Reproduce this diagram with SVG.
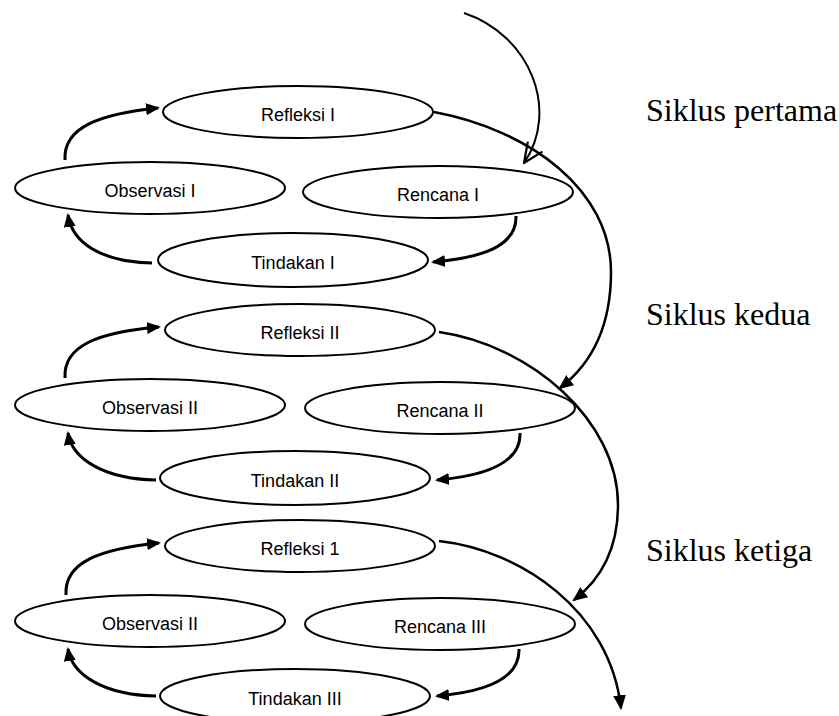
<svg xmlns="http://www.w3.org/2000/svg" width="839" height="716" viewBox="0 0 839 716">
<style>
.node ellipse{fill:#fff;stroke:#000;stroke-width:2}
.lbl{font-family:"Liberation Sans",Arial,sans-serif;font-size:18px;fill:#000;text-anchor:middle}
.cyc{font-family:"Liberation Serif","Times New Roman",serif;font-size:32px;fill:#000}
.c{fill:none;stroke:#000;stroke-width:3}
.big{fill:none;stroke:#000;stroke-width:2.5}
.top{fill:none;stroke:#000;stroke-width:2}
</style>
<defs>
<marker id="ah" viewBox="0 0 14 12" refX="12" refY="6" markerWidth="14" markerHeight="12" markerUnits="userSpaceOnUse" orient="auto">
<path d="M0,0 L14,6 L0,12 z" fill="#000"/>
</marker>
<marker id="ahs" viewBox="0 0 14 12" refX="12" refY="6" markerWidth="15" markerHeight="13" markerUnits="userSpaceOnUse" orient="auto">
<path d="M0,0 L14,6 L0,12 z" fill="#000"/>
</marker>
<marker id="open" viewBox="0 0 20 20" refX="19" refY="10" markerWidth="22" markerHeight="22" markerUnits="userSpaceOnUse" orient="auto">
<path d="M1,2 L19,10 L1,18" fill="none" stroke="#000" stroke-width="2"/>
</marker>
</defs>
<rect width="839" height="716" fill="#fff"/>

<g id="refleksi1" class="node"><ellipse cx="298" cy="112" rx="135" ry="26"/><text class="lbl" x="298" y="121">Refleksi I</text></g>
<g id="observasi1" class="node"><ellipse cx="150" cy="188" rx="135" ry="26"/><text class="lbl" x="150" y="197">Observasi I</text></g>
<g id="rencana1" class="node"><ellipse cx="438" cy="192" rx="135" ry="26"/><text class="lbl" x="438" y="201">Rencana I</text></g>
<g id="tindakan1" class="node"><ellipse cx="293" cy="260" rx="135" ry="27"/><text class="lbl" x="293" y="269">Tindakan I</text></g>

<g id="refleksi2" class="node"><ellipse cx="300" cy="330" rx="135" ry="26"/><text class="lbl" x="300" y="339">Refleksi II</text></g>
<g id="observasi2" class="node"><ellipse cx="150" cy="405" rx="135" ry="26"/><text class="lbl" x="150" y="414">Observasi II</text></g>
<g id="rencana2" class="node"><ellipse cx="440" cy="408" rx="135" ry="26"/><text class="lbl" x="440" y="417">Rencana II</text></g>
<g id="tindakan2" class="node"><ellipse cx="295" cy="478" rx="135" ry="27"/><text class="lbl" x="295" y="487">Tindakan II</text></g>

<g id="refleksi3" class="node"><ellipse cx="300" cy="546" rx="135" ry="26"/><text class="lbl" x="300" y="555">Refleksi 1</text></g>
<g id="observasi3" class="node"><ellipse cx="150" cy="621" rx="135" ry="26"/><text class="lbl" x="150" y="630">Observasi II</text></g>
<g id="rencana3" class="node"><ellipse cx="440" cy="624" rx="135" ry="26"/><text class="lbl" x="440" y="633">Rencana III</text></g>
<g id="tindakan3" class="node"><ellipse cx="295" cy="696" rx="135" ry="27"/><text class="lbl" x="295" y="705">Tindakan III</text></g>

<g id="labels">
<text class="cyc" x="646" y="121">Siklus pertama</text>
<text class="cyc" x="646" y="325">Siklus kedua</text>
<text class="cyc" x="646" y="561">Siklus ketiga</text>
</g>

<g id="connectors">
<path class="c" marker-end="url(#ah)" d="M65,160 C63,127 100,114 158,108"/>
<path class="c" marker-end="url(#ah)" d="M516,216 C517,247 480,258 433,262"/>
<path class="c" marker-end="url(#ah)" d="M152,263 C100,262 72,242 68,215"/>

<path class="c" marker-end="url(#ah)" d="M65,378 C63,345 100,332 159,327"/>
<path class="c" marker-end="url(#ah)" d="M520,433 C521,464 484,476 437,480"/>
<path class="c" marker-end="url(#ah)" d="M156,480 C104,479 72,459 68,433"/>

<path class="c" marker-end="url(#ah)" d="M66,595 C64,562 100,549 159,543"/>
<path class="c" marker-end="url(#ah)" d="M519,649 C520,680 484,692 437,696"/>
<path class="c" marker-end="url(#ah)" d="M156,696 C104,695 72,675 68,649"/>

<path class="top" marker-end="url(#open)" d="M464,13 C530,35 560,110 524,163"/>
<path class="big" marker-end="url(#ahs)" d="M434,112 C530,130 611,190 611,272 C611,330 590,365 560,388"/>
<path class="big" marker-end="url(#ahs)" d="M439,332 C530,345 618,420 618,505 C618,550 600,580 574,600"/>
<path class="big" marker-end="url(#ahs)" d="M439,541 C520,550 610,610 621,708"/>
</g>
</svg>
